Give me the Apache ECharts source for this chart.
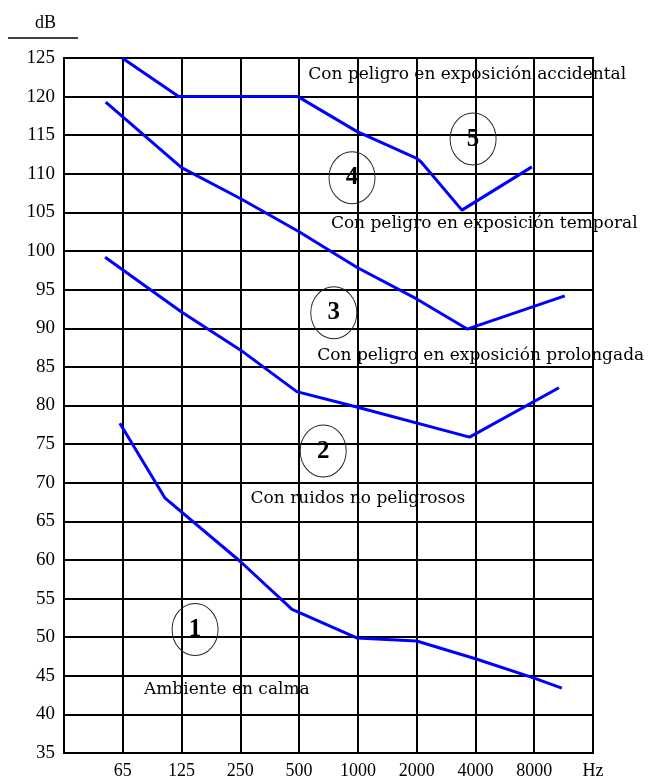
<!DOCTYPE html>
<html>
<head>
<meta charset="utf-8">
<script src="https://cdn.jsdelivr.net/npm/echarts@6/dist/echarts.min.js"></script>
<style>
html,body{margin:0;padding:0;background:#fff;}
#c{width:651px;height:780px;}
</style>
</head>
<body>
<div id="c"></div>
<script>
// Frequency tick labels (position index 0..9 on the x axis)
var freqLabels = ['', '65', '125', '250', '500', '1000', '2000', '4000', '8000', 'Hz'];
var yTicks = {min: 35, max: 125, step: 5};

// Curves: [frequency position, dB]
var curve1 = [[0.95,77.7],[1.72,68.0],[3.0,59.8],[3.88,53.6],[4.98,49.9],[6.0,49.5],[7.0,47.2],[8.0,44.7],[8.47,43.4]];
var curve2 = [[0.70,99.2],[2.0,92.1],[3.0,87.2],[3.96,81.8],[4.98,79.8],[6.9,75.9],[8.42,82.3]];
var curve3 = [[0.71,119.3],[2.0,110.8],[3.0,106.8],[4.0,102.5],[4.98,97.9],[6.0,93.8],[6.86,89.9],[8.52,94.2]];
var curve4 = [[0.99,125],[1.95,120],[3.98,120],[4.98,115.5],[6.0,112.0],[6.08,111.5],[6.77,105.3],[7.96,110.9]];

// Annotations (data coordinates)
var circleNums = [
  {n: '1', at: [2.23, 51.0]},
  {n: '2', at: [4.41, 74.1]},
  {n: '3', at: [4.59, 92.0]},
  {n: '4', at: [4.90, 109.5]},
  {n: '5', at: [6.96, 114.5]}
];
var captions = [
  {t: 'Ambiente en calma', at: [2.77, 43.2]},
  {t: 'Con ruidos no peligrosos', at: [5.0, 68.0]},
  {t: 'Con peligro en exposición prolongada', at: [7.09, 86.4]},
  {t: 'Con peligro en exposición temporal', at: [7.15, 103.6]},
  {t: 'Con peligro en exposición accidental', at: [6.86, 122.8]}
];

var serif = 'Liberation Serif';
var wideSerif = 'DejaVu Serif';
var chart = echarts.init(document.getElementById('c'), null, {renderer: 'canvas'});

function lineSeries(d) {
  return {
    type: 'line', data: d, showSymbol: false, silent: true, clip: false,
    lineStyle: {color: '#0000ff', width: 3}
  };
}

var markSeries = {
  type: 'line', data: [], silent: true,
  markPoint: {
    silent: true, animation: false,
    data: circleNums.map(function (c) {
      return {
        coord: c.at, symbol: 'circle', symbolSize: [46, 52],
        itemStyle: {color: 'rgba(0,0,0,0)', borderColor: '#222', borderWidth: 1},
        label: {show: true, position: 'inside', formatter: c.n, color: '#000',
                fontFamily: serif, fontWeight: 'bold', fontSize: 25}
      };
    }).concat(captions.map(function (c) {
      return {
        coord: c.at, symbol: 'circle', symbolSize: 0,
        label: {show: true, position: 'inside', formatter: c.t, color: '#000',
                fontFamily: wideSerif, fontSize: 17}
      };
    }))
  }
};

chart.setOption({
  animation: false,
  backgroundColor: '#fff',
  grid: {left: 64, top: 58, width: 529, height: 695, show: true,
         borderColor: '#000', borderWidth: 2, backgroundColor: 'transparent'},
  xAxis: {
    type: 'value', min: 0, max: freqLabels.length - 1, interval: 1,
    axisLine: {show: true, lineStyle: {color: '#000', width: 2}},
    axisTick: {show: false},
    splitLine: {show: true, lineStyle: {color: '#000', width: 2}},
    axisLabel: {
      color: '#000', fontFamily: serif, fontSize: 18, margin: 9,
      formatter: function (v) { return freqLabels[Math.round(v)] || ''; }
    }
  },
  yAxis: {
    type: 'value', min: yTicks.min, max: yTicks.max, interval: yTicks.step,
    axisLine: {show: true, lineStyle: {color: '#000', width: 2}},
    axisTick: {show: false},
    splitLine: {show: true, lineStyle: {color: '#000', width: 2}},
    axisLabel: {color: '#000', fontFamily: serif, fontSize: 19, margin: 9}
  },
  graphic: [
    {type: 'text', left: 35, top: 14,
     style: {text: 'dB', fill: '#000', fontFamily: serif, fontSize: 18}},
    {type: 'line', shape: {x1: 8, y1: 38, x2: 78, y2: 38},
     style: {stroke: '#000', lineWidth: 1.5}}
  ],
  series: [lineSeries(curve1), lineSeries(curve2), lineSeries(curve3), lineSeries(curve4), markSeries]
});
</script>
</body>
</html>
